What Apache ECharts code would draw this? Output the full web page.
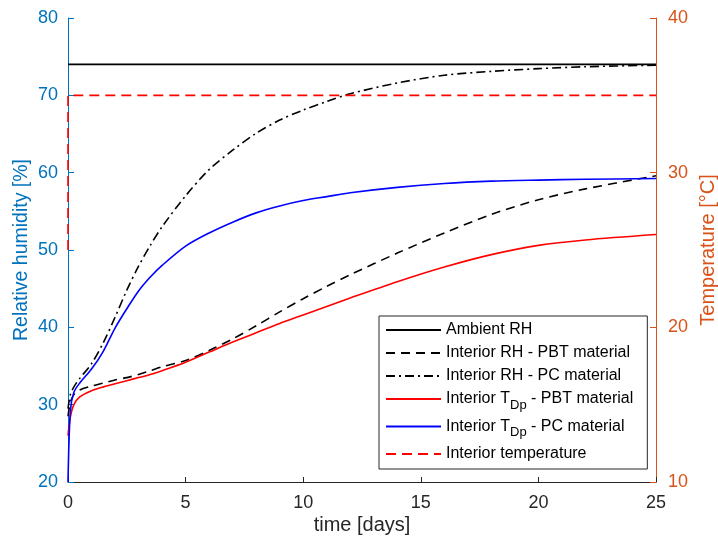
<!DOCTYPE html>
<html>
<head>
<meta charset="utf-8">
<script src="https://cdn.jsdelivr.net/npm/echarts@6/dist/echarts.min.js"></script>
<style>html,body{margin:0;padding:0;background:#fff}#c{width:718px;height:544px}</style>
</head>
<body>
<div id="c"></div>
<script>
// time [days]
const timeDays = [0, 0.1, 0.25, 0.5, 1, 1.5, 2, 2.5, 3, 3.5, 4, 5, 6, 7, 8, 9, 10, 11, 12, 14, 16, 18, 20, 22, 25];
// Relative humidity [%]
const ambientRH = [74, 74, 74, 74, 74, 74, 74, 74, 74, 74, 74, 74, 74, 74, 74, 74, 74, 74, 74, 74, 74, 74, 74, 74, 74];
const rhPBT = [28.5, 30.3, 31.3, 31.9, 32.4, 32.8, 33.2, 33.5, 33.9, 34.4, 34.9, 35.7, 37.0, 38.5, 40.2, 42.0, 43.7, 45.3, 46.8, 49.6, 52.2, 54.6, 56.5, 57.9, 59.6];
const rhPC = [29.5, 31.3, 32.3, 33.4, 35.3, 38.0, 41.3, 44.8, 47.9, 50.6, 53.0, 57.0, 60.4, 62.9, 65.1, 66.8, 68.1, 69.2, 70.2, 71.6, 72.6, 73.1, 73.45, 73.7, 73.9];
// Temperature [°C]
const tdpPBT = [13.0, 14.2, 15.0, 15.5, 15.9, 16.15, 16.35, 16.55, 16.75, 16.95, 17.2, 17.75, 18.4, 19.05, 19.65, 20.25, 20.8, 21.35, 21.9, 22.95, 23.9, 24.7, 25.3, 25.65, 26.0];
const tdpPC = [10.0, 14.6, 15.8, 16.4, 17.3, 18.45, 19.95, 21.2, 22.35, 23.25, 24.0, 25.25, 26.1, 26.8, 27.4, 27.85, 28.2, 28.45, 28.7, 29.05, 29.3, 29.45, 29.52, 29.57, 29.62];
const tempTime = [0, 0, 25];
const interiorTemp = [25, 35, 35];
// ticks
const xTicks = [0, 5, 10, 15, 20, 25];
const rhTicks = [20, 30, 40, 50, 60, 70, 80];
const tTicks = [10, 20, 30, 40];

const zip = (xs, ys) => xs.map((x, i) => [x, ys[i]]);
const FONT = 'Liberation Sans';
const BLUE = '#0072BD', ORANGE = '#D95319';

const chart = echarts.init(document.getElementById('c'), null, {renderer: 'canvas'});
const lineBase = {type: 'line', symbol: 'none', showSymbol: false, animation: false, z: 3};
chart.setOption({
  animation: false,
  textStyle: {fontFamily: FONT},
  grid: {left: 68, right: 62, top: 18, bottom: 62, containLabel: false, outerBoundsMode: 'none'},
  xAxis: {
    type: 'value', min: xTicks[0], max: xTicks[xTicks.length - 1], interval: 5,
    name: 'time [days]', nameLocation: 'middle', nameGap: 33, nameMoveOverlap: false,
    nameTextStyle: {color: '#262626', fontSize: 20, fontFamily: FONT},
    axisLine: {lineStyle: {color: '#262626', width: 1}},
    axisTick: {inside: true, length: 5, lineStyle: {color: '#262626'}},
    axisLabel: {color: '#262626', fontSize: 18, margin: 12, fontFamily: FONT},
    splitLine: {show: false}
  },
  yAxis: [{
    type: 'value', min: rhTicks[0], max: rhTicks[rhTicks.length - 1], interval: 10,
    name: 'Relative humidity [%]', nameLocation: 'middle', nameGap: 36, nameMoveOverlap: false,
    nameTextStyle: {color: BLUE, fontSize: 19.5, fontFamily: FONT},
    axisLine: {show: true, lineStyle: {color: BLUE, width: 1}},
    axisTick: {show: true, inside: true, length: 6, lineStyle: {color: BLUE}},
    axisLabel: {color: BLUE, fontSize: 18, margin: 10, fontFamily: FONT},
    splitLine: {show: false}
  }, {
    type: 'value', min: tTicks[0], max: tTicks[tTicks.length - 1], interval: 10,
    position: 'right',
    name: 'Temperature [°C]', nameLocation: 'middle', nameGap: 42,
    nameTextStyle: {color: ORANGE, fontSize: 20, fontFamily: FONT},
    axisLine: {show: true, lineStyle: {color: ORANGE, width: 1}},
    axisTick: {show: true, inside: true, length: 6, lineStyle: {color: ORANGE}},
    axisLabel: {color: ORANGE, fontSize: 18, margin: 12, fontFamily: FONT},
    splitLine: {show: false}
  }],
  legend: {
    orient: 'vertical', left: 379, top: 316,
    padding: [6, 14, 7, 6], itemGap: 7,
    itemWidth: 55, itemHeight: 14,
    backgroundColor: '#fff', borderColor: '#262626', borderWidth: 1,
    itemStyle: {opacity: 0},
    textStyle: {color: '#000', fontSize: 16, fontFamily: FONT,
      rich: {sub: {fontSize: 13, fontFamily: FONT, color: '#000', padding: [12, 0, 0, 0]}}},
    formatter: name => name.replace('T_Dp', 'T{sub|Dp}'),
    data: ['Ambient RH', 'Interior RH - PBT material', 'Interior RH - PC material',
           'Interior T_Dp - PBT material', 'Interior T_Dp - PC material', 'Interior temperature']
  },
  series: [
    Object.assign({}, lineBase, {name: 'Ambient RH', yAxisIndex: 0, data: zip(timeDays, ambientRH),
      color: '#000', lineStyle: {color: '#000', width: 1.6, type: 'solid'}}),
    Object.assign({}, lineBase, {name: 'Interior RH - PBT material', yAxisIndex: 0, data: zip(timeDays, rhPBT),
      smooth: 0.3, color: '#000', lineStyle: {color: '#000', width: 1.6, type: [9, 6]}}),
    Object.assign({}, lineBase, {name: 'Interior RH - PC material', yAxisIndex: 0, data: zip(timeDays, rhPC),
      smooth: 0.3, color: '#000', lineStyle: {color: '#000', width: 1.6, type: [9, 4, 2, 4]}}),
    Object.assign({}, lineBase, {name: 'Interior T_Dp - PBT material', yAxisIndex: 1, data: zip(timeDays, tdpPBT),
      smooth: 0.3, color: '#FF0000', lineStyle: {color: '#FF0000', width: 1.6, type: 'solid'}}),
    Object.assign({}, lineBase, {name: 'Interior T_Dp - PC material', yAxisIndex: 1, data: zip(timeDays, tdpPC),
      smooth: 0.3, color: '#0000FF', lineStyle: {color: '#0000FF', width: 1.6, type: 'solid'}}),
    Object.assign({}, lineBase, {name: 'Interior temperature', yAxisIndex: 1, data: zip(tempTime, interiorTemp),
      color: '#FF0000', lineStyle: {color: '#FF0000', width: 1.6, type: [10, 6]}})
  ]
});
</script>
</body>
</html>
